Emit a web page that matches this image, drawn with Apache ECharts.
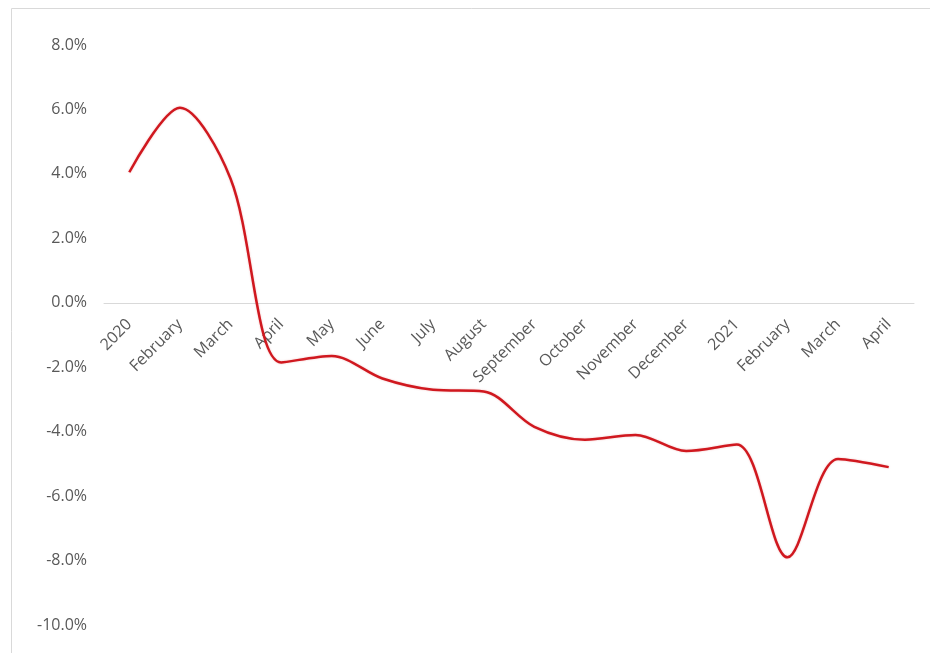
<!DOCTYPE html>
<html><head><meta charset="utf-8">
<script src="https://cdn.jsdelivr.net/npm/echarts@6/dist/echarts.min.js"></script>
<style>html,body{margin:0;padding:0;background:#fff}#c{width:930px;height:653px}</style>
</head><body><div id="c"></div>
<script>
const categories = ['2020','February','March','April','May','June','July','August','September','October','November','December','2021','February','March','April'];
const values = [4.05, 6.05, 3.85, -1.85, -1.65, -2.35, -2.7, -2.75, -3.85, -4.25, -4.1, -4.6, -4.4, -7.9, -4.85, -5.1];
const yTicks = [-10, -8, -6, -4, -2, 0, 2, 4, 6, 8];

const gridTop = 45, gridBottom = 28, H = 653;
const plotH = H - gridTop - gridBottom;
const zeroOffset = plotH * (0 - yTicks[0]) / (yTicks[yTicks.length-1] - yTicks[0]);

const chart = echarts.init(document.getElementById('c'));
chart.setOption({
  animation: false,
  graphic: [{type:'rect', shape:{x:11.5,y:8.5,width:930,height:660}, style:{fill:'none',stroke:'#d9d9d9',lineWidth:1}}],
  grid: {left:104, right:16, top:gridTop, bottom:gridBottom, containLabel:false, outerBoundsMode:'none'},
  xAxis: {
    type:'category', data: categories, boundaryGap:true,
    offset: -zeroOffset,
    axisLine:{onZero:false, lineStyle:{color:'#d9d9d9',width:1}},
    axisTick:{show:false},
    axisLabel:{rotate:45, color:'#595959', fontSize:16, fontFamily:'Open Sans', margin:19, interval:0, hideOverlap:false}
  },
  yAxis: {
    type:'value', min: yTicks[0], max: yTicks[yTicks.length-1], interval:2,
    axisLine:{show:false}, axisTick:{show:false}, splitLine:{show:false},
    axisLabel:{color:'#595959', fontSize:16, fontFamily:'Open Sans', margin:17, formatter: v => v.toFixed(1)+'%'}
  },
  series: [{
    type:'line', data: values, smooth:0.32, symbol:'none', z:5,
    lineStyle:{color:'#d0181f', width:2.5, shadowColor:'rgba(200,0,0,0.25)', shadowBlur:2}
  }]
});
</script></body></html>
